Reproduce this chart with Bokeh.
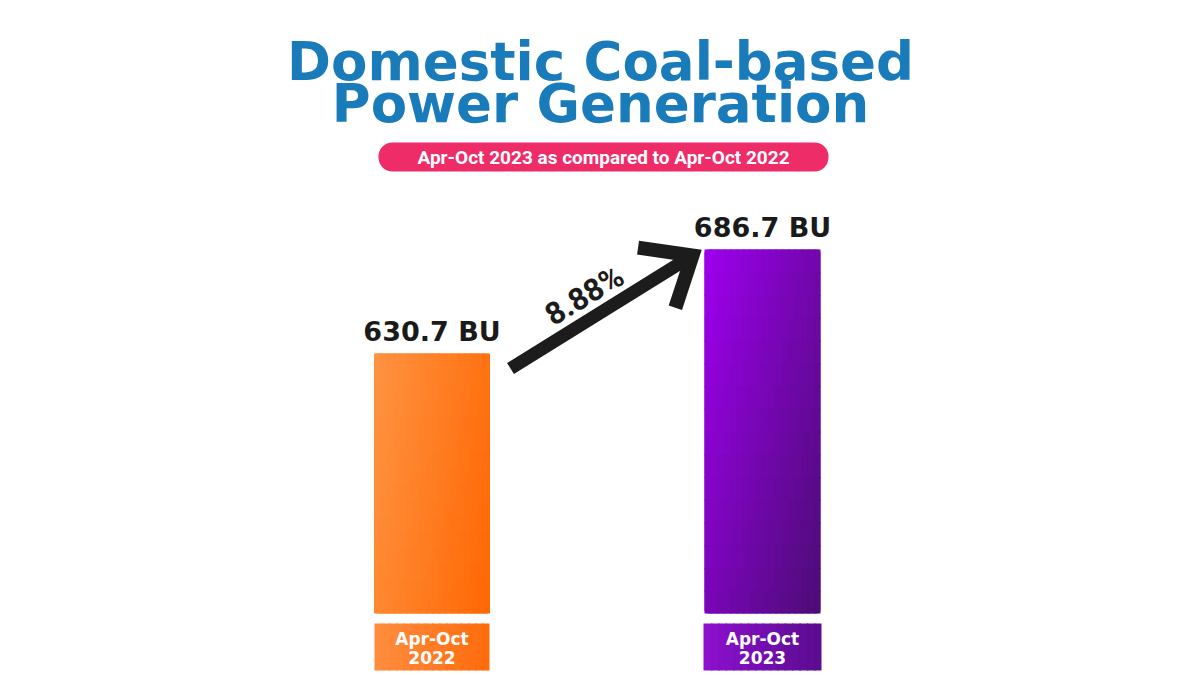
import math
from bokeh.plotting import figure
from bokeh.models import Range1d
from bokeh.core.properties import value
from bokeh.embed import file_html
from bokeh.resources import INLINE

# ---- data ----
categories = ["Apr-Oct 2022", "Apr-Oct 2023"]
cat_line1 = ["Apr-Oct", "Apr-Oct"]
cat_line2 = ["2022", "2023"]
generation_bu = [630.7, 686.7]
value_labels = ["630.7 BU", "686.7 BU"]
growth_label = "8.88%"
title_lines = ["Domestic Coal-based", "Power Generation"]
subtitle = "Apr-Oct 2023 as compared to Apr-Oct 2022"

# ---- layout ----
W, H = 1200, 675
BASE = 490.7
SHIFT = 0.36  # baseline correction factor (fraction of font size)
p = figure(width=W, height=H, output_backend="svg", toolbar_location=None,
           x_range=Range1d(-1.3056, 2.3253), y_range=Range1d(457.3, 820.8),
           min_border=0)
p.xaxis.visible = False
p.yaxis.visible = False
p.grid.visible = False
p.outline_line_color = None
p.background_fill_color = "white"
p.border_fill_color = "white"
p.extra_x_ranges = {"px": Range1d(0, 1200)}
p.extra_y_ranges = {"px": Range1d(675, 0)}
PX = dict(x_range_name="px", y_range_name="px")

xs = list(range(len(categories)))
bw = 0.351

def mix(c1, c2, t):
    return "#%02x%02x%02x" % tuple(int(round(a + (b - a) * t)) for a, b in zip(c1, c2))

grad = [((255, 146, 64), (255, 104, 4)), ((156, 0, 235), (78, 12, 120))]
solid = ["#ff7a1c", "#7a08b8"]

# main bars (data marks)
p.vbar(x=xs, top=generation_bu, bottom=BASE, width=bw, fill_color=solid,
       line_color=None, border_radius=4)

# gradient overlay cells
NX, NY = 18, 16
L, R, T, B, C = [], [], [], [], []
for i, v in enumerate(generation_bu):
    c1, c2 = grad[i]
    for a in range(NX):
        for b in range(NY):
            x0 = xs[i] - bw / 2 + bw * a / NX
            x1 = xs[i] - bw / 2 + bw * (a + 1) / NX
            y1 = v - (v - BASE) * b / NY
            y0 = v - (v - BASE) * (b + 1) / NY
            if i == 0:
                t = 0.75 * (a / (NX - 1)) + 0.25 * (b / (NY - 1))
            else:
                t = 0.55 * (a / (NX - 1)) + 0.45 * (b / (NY - 1))
            L.append(x0)
            R.append(min(x1 + 0.004, xs[i] + bw / 2))
            T.append(y1)
            B.append(max(y0 - 0.6, BASE))
            C.append(mix(c1, c2, t))
p.quad(left=L, right=R, top=T, bottom=B, fill_color=C, line_color=None)

# value labels above bars
fs_val = 27
p.text(x=xs, y=generation_bu, text=value_labels, y_offset=-12 - SHIFT * fs_val,
       text_align="center", text_baseline="alphabetic",
       text_font=value("DejaVu Sans"), text_font_style="bold",
       text_font_size=f"{fs_val}px", text_color="#1a1a1a")

# category boxes below bars (pixel space) with horizontal gradient
box_l = [374, 703]
box_r = [489, 821]
box_grad = [((255, 140, 60), (255, 108, 14)), ((140, 16, 205), (92, 12, 145))]
NB = 16
bl, br, bc = [], [], []
for i in range(2):
    wdt = box_r[i] - box_l[i]
    for a in range(NB):
        bl.append(box_l[i] + wdt * a / NB)
        br.append(min(box_l[i] + wdt * (a + 1) / NB + 1.5, box_r[i]))
        bc.append(mix(box_grad[i][0], box_grad[i][1], a / (NB - 1)))
p.quad(left=bl, right=br, top=623, bottom=670, fill_color=bc, line_color=None, **PX)
cx = [(a + b) / 2 for a, b in zip(box_l, box_r)]
fs_cat = 17
p.text(x=cx, y=[645 - SHIFT * fs_cat] * 2, text=cat_line1, text_align="center",
       text_baseline="alphabetic", text_font=value("DejaVu Sans"),
       text_font_style="bold", text_font_size=f"{fs_cat}px", text_color="white", **PX)
p.text(x=cx, y=[663 - SHIFT * fs_cat] * 2, text=cat_line2, text_align="center",
       text_baseline="alphabetic", text_font=value("DejaVu Sans"),
       text_font_style="bold", text_font_size=f"{fs_cat}px", text_color="white", **PX)

# title
fs_t = 53
p.text(x=[600, 600], y=[80 - SHIFT * fs_t, 122 - SHIFT * fs_t], text=title_lines,
       text_align="center", text_baseline="alphabetic", text_font=value("DejaVu Sans"),
       text_font_style="bold", text_font_size=f"{fs_t}px", text_color="#1a7bbb", **PX)

# subtitle pill
p.quad(left=[378], right=[828], top=[142], bottom=[171], fill_color="#ee2c68",
       line_color=None, border_radius=14, **PX)
fs_s = 19
p.text(x=[603], y=[164 - SHIFT * fs_s], text=[subtitle], text_align="center",
       text_baseline="alphabetic", text_font=value("Roboto"),
       text_font_style="bold", text_font_size=f"{fs_s}px", text_color="white", **PX)

# growth arrow
tail = (510, 368)
tip = (692, 255)
ang = math.atan2(tail[1] - tip[1], tail[0] - tip[0])
arm = 55
spread = math.radians(40)
a1 = (tip[0] + arm * math.cos(ang - spread), tip[1] + arm * math.sin(ang - spread))
a2 = (tip[0] + arm * math.cos(ang + spread), tip[1] + arm * math.sin(ang + spread))
p.line(x=[tail[0], tip[0] - 4], y=[tail[1], tip[1] + 2.5], line_width=13,
       line_color="#1c1c1c", **PX)
p.line(x=[a1[0], tip[0], a2[0]], y=[a1[1], tip[1], a2[1]], line_width=14,
       line_color="#1c1c1c", line_join="miter", **PX)
p.text(x=[584], y=[295], text=[growth_label], angle=math.radians(31),
       text_align="center", text_baseline="middle",
       text_font=value("Roboto"), text_font_style="bold",
       text_font_size="31px", text_color="#1c1c1c", **PX)

open("out.html", "w").write(file_html(p, INLINE))
